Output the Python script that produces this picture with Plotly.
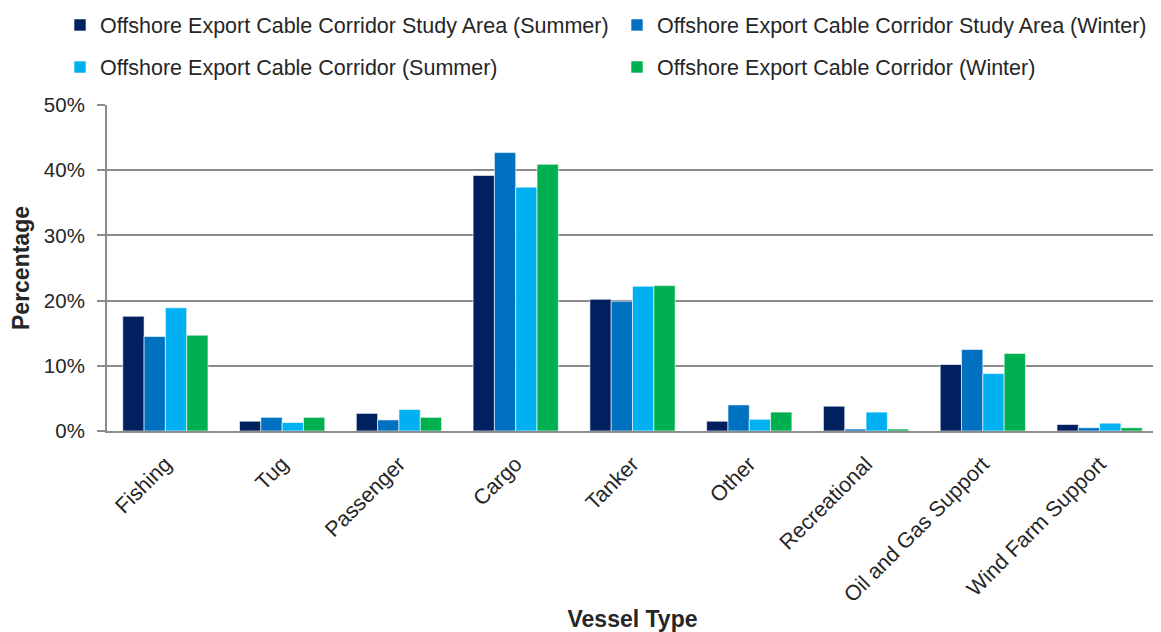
import plotly.graph_objects as go

vessel_types = ["Fishing", "Tug", "Passenger", "Cargo", "Tanker", "Other",
                "Recreational", "Oil and Gas Support", "Wind Farm Support"]

study_area_summer = [17.6, 1.5, 2.7, 39.2, 20.2, 1.5, 3.8, 10.2, 1.0]
study_area_winter = [14.5, 2.1, 1.7, 42.7, 19.9, 4.0, 0.3, 12.5, 0.5]
corridor_summer = [18.9, 1.3, 3.3, 37.4, 22.2, 1.8, 2.9, 8.8, 1.2]
corridor_winter = [14.7, 2.1, 2.1, 40.9, 22.3, 2.9, 0.3, 11.9, 0.5]

# each legend entry gets its own legend box so the 2x2 grid lines up like the original
series = [
    ("Offshore Export Cable Corridor Study Area (Summer)", study_area_summer, "#002060", "legend", 0.0451, 0.9728),
    ("Offshore Export Cable Corridor Study Area (Winter)", study_area_winter, "#0070C0", "legend2", 0.5282, 0.9728),
    ("Offshore Export Cable Corridor (Summer)", corridor_summer, "#00B0F0", "legend3", 0.0451, 0.9054),
    ("Offshore Export Cable Corridor (Winter)", corridor_winter, "#00B050", "legend4", 0.5282, 0.9054),
]

font = "Liberation Sans"
text_col = "#262626"
grey = "#8c8c8c"

fig = go.Figure()
legends = {}
for name, vals, col, leg, lx, ly in series:
    fig.add_trace(go.Bar(
        x=vessel_types, y=vals, name=name, legend=leg, showlegend=True,
        marker=dict(color=col, line=dict(color="rgba(255,255,255,0.6)", width=1)),
    ))
    legends[leg] = dict(
        orientation="h", xref="container", yref="container",
        xanchor="left", yanchor="middle", x=lx, y=ly,
        font=dict(family=font, size=21.5, color=text_col),
        itemwidth=30, bgcolor="rgba(0,0,0,0)",
    )

# page body adds an 8px offset, so the figure is a bit smaller than the window
fig.update_layout(
    width=1153, height=624,
    margin=dict(l=99, r=3, t=97, b=201, autoexpand=False),
    paper_bgcolor="white", plot_bgcolor="white",
    barmode="group", bargap=0.27, bargroupgap=0,
    font=dict(family=font, size=20, color=text_col),
    xaxis=dict(
        showline=True, linecolor=grey, linewidth=2,
        tickangle=-45, tickfont=dict(size=21.5), ticklabelstandoff=10,
        title=dict(text="<b>Vessel Type</b>", font=dict(size=23), standoff=20),
    ),
    yaxis=dict(
        range=[0, 50], dtick=10, ticksuffix="%",
        showgrid=True, gridcolor=grey, gridwidth=2,
        showline=True, linecolor=grey, linewidth=2,
        ticks="outside", ticklen=8, tickcolor=grey, tickwidth=2,
        ticklabelstandoff=8,
        tickfont=dict(size=20.5), zeroline=False,
        title=dict(text="<b>Percentage</b>", font=dict(size=23), standoff=18),
    ),
    **legends,
)

fig.write_html("out.html")
